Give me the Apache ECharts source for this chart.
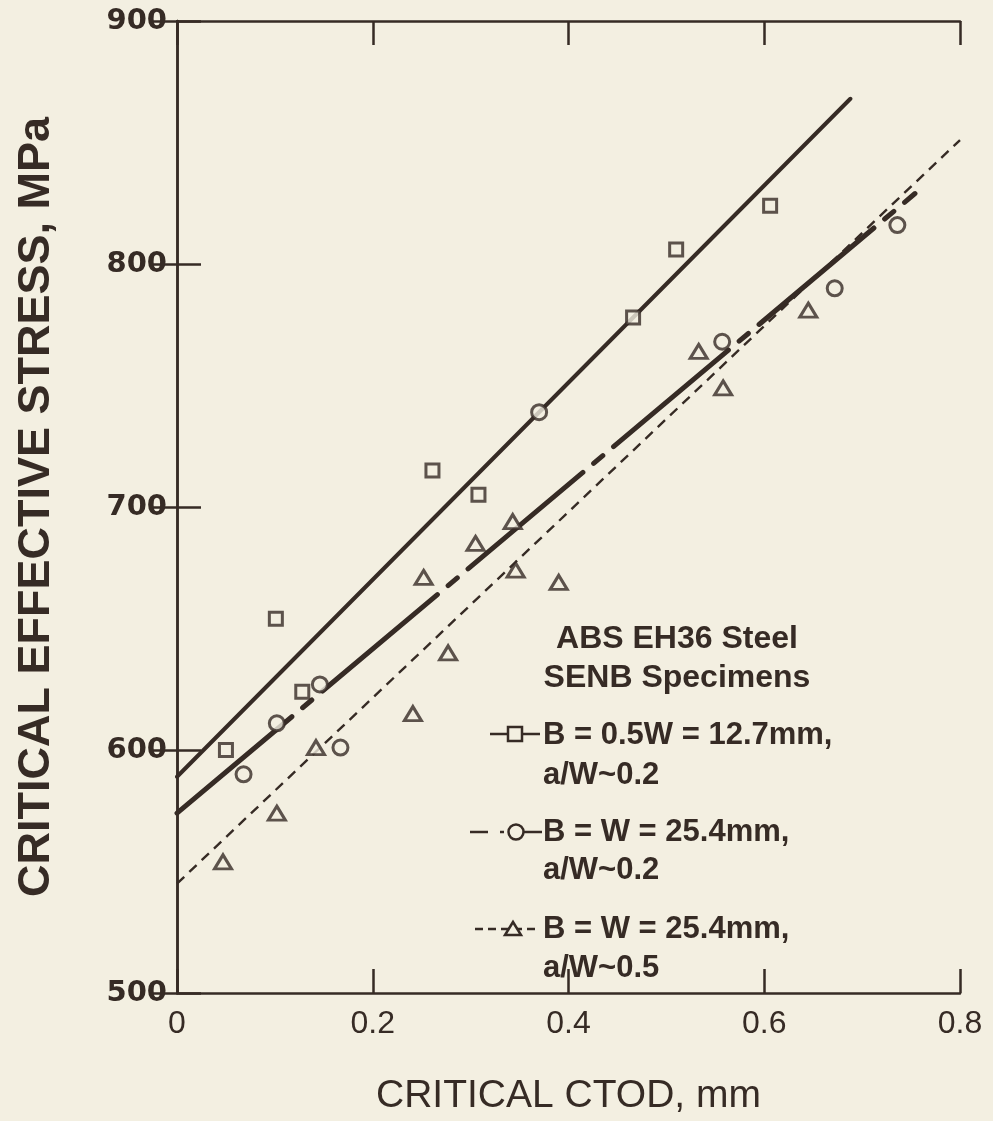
<!DOCTYPE html>
<html>
<head>
<meta charset="utf-8">
<script src="https://cdn.jsdelivr.net/npm/echarts@6/dist/echarts.min.js"></script>
<style>
  html, body { margin: 0; padding: 0; background: #f3efe1; }
  #chart { width: 993px; height: 1121px; }
</style>
</head>
<body>
<div id="chart"></div>
<script>
// Ink and paper colours
const INK = '#362b25';
const PAPER = '#f3efe1';
const FONT = '"Liberation Sans", Arial, Helvetica, sans-serif';
const WIDE_FONT = '"DejaVu Sans", Verdana, sans-serif';

// Critical CTOD (mm) vs critical effective stress (MPa), ABS EH36 SENB specimens
const thinShallow = [   // B = 0.5W = 12.7 mm, a/W ~ 0.2
  [0.050, 600], [0.101, 654], [0.128, 624], [0.261, 715],
  [0.308, 705], [0.466, 778], [0.510, 806], [0.606, 824]
];
const thickShallow = [  // B = W = 25.4 mm, a/W ~ 0.2
  [0.068, 590], [0.102, 611], [0.146, 627], [0.167, 601],
  [0.370, 739], [0.557, 768], [0.672, 790], [0.736, 816]
];
const thickDeep = [     // B = W = 25.4 mm, a/W ~ 0.5
  [0.047, 554], [0.102, 574], [0.142, 601], [0.241, 615],
  [0.252, 671], [0.277, 640], [0.305, 685], [0.343, 694],
  [0.346, 674], [0.390, 669], [0.533, 764], [0.558, 749],
  [0.645, 781]
];

// Straight-line fits, given by their end points
const fitThinShallow = [[0, 589], [0.688, 868]];
const fitThickShallow = [[0, 574], [0.754, 829]];
const fitThickDeep = [[0, 545], [0.8, 851]];

// Axis ranges
const xRange = [0, 0.8, 0.2];
const yRange = [500, 900, 100];

// Annotation text
const noteTitle = ['ABS EH36 Steel', 'SENB Specimens'];
const noteEntries = [
  { lines: ['B = 0.5W = 12.7mm,', 'a/W~0.2'], symbol: 'square' },
  { lines: ['B = W = 25.4mm,', 'a/W~0.2'], symbol: 'circle' },
  { lines: ['B = W = 25.4mm,', 'a/W~0.5'], symbol: 'triangle' }
];

const chart = echarts.init(document.getElementById('chart'), null, { renderer: 'canvas' });

const axisLine = { show: true, lineStyle: { color: INK, width: 2.5 } };
const tickStyle = { show: true, inside: true, length: 24, lineStyle: { color: INK, width: 2.5 } };

function baseX(pos, withLabels) {
  return {
    type: 'value', position: pos, min: xRange[0], max: xRange[1], interval: xRange[2],
    axisLine, axisTick: tickStyle, splitLine: { show: false },
    axisLabel: withLabels
      ? { show: true, color: INK, fontFamily: FONT, fontSize: 32, margin: 15 }
      : { show: false }
  };
}
function baseY(pos, withLabels) {
  return {
    type: 'value', position: pos, min: yRange[0], max: yRange[1], interval: yRange[2],
    axisLine, axisTick: tickStyle, splitLine: { show: false },
    axisLabel: withLabels
      ? { show: true, color: INK, fontFamily: WIDE_FONT, fontSize: 29, fontWeight: 'bold', margin: 10 }
      : { show: false }
  };
}

const xBottom = Object.assign(baseX('bottom', true), {
  name: 'CRITICAL CTOD, mm', nameLocation: 'middle', nameGap: 84,
  nameTextStyle: { color: INK, fontFamily: FONT, fontSize: 39 }
});
const yLeft = Object.assign(baseY('left', true), {
  name: 'CRITICAL EFFECTIVE STRESS, MPa', nameLocation: 'middle', nameGap: 118,
  nameTextStyle: { color: INK, fontFamily: FONT, fontSize: 45, fontWeight: 'bold' }
});

// Legend-style annotation drawn as graphic elements
const graphics = [];
const NOTE_X = 543;
graphics.push({
  type: 'text', x: 677, y: 620, z: 10,
  style: { text: noteTitle.join('\n'), fill: INK, font: 'bold 32px ' + FONT,
           lineHeight: 39, align: 'center' }
});
const entryRows = [735, 832, 929];
const subRows = [775, 870, 968];
entryRows.forEach((y, i) => {
  const e = noteEntries[i];
  graphics.push({ type: 'text', x: NOTE_X, y: y, z: 10,
    style: { text: e.lines[0], fill: INK, font: 'bold 31px ' + FONT, verticalAlign: 'middle' } });
  graphics.push({ type: 'text', x: NOTE_X, y: subRows[i], z: 10,
    style: { text: e.lines[1], fill: INK, font: 'bold 31px ' + FONT, verticalAlign: 'middle' } });
  if (e.symbol === 'square') {
    graphics.push({ type: 'line', z: 10, shape: { x1: 490, y1: y - 1, x2: 540, y2: y - 1 },
      style: { stroke: INK, lineWidth: 2.5 } });
    graphics.push({ type: 'rect', z: 11, shape: { x: 508, y: y - 8, width: 14, height: 14 },
      style: { fill: PAPER, stroke: INK, lineWidth: 2.5 } });
  } else if (e.symbol === 'circle') {
    graphics.push({ type: 'line', z: 10, shape: { x1: 470, y1: y, x2: 488, y2: y },
      style: { stroke: INK, lineWidth: 2.5 } });
    graphics.push({ type: 'line', z: 10, shape: { x1: 500, y1: y, x2: 504, y2: y },
      style: { stroke: INK, lineWidth: 2.5 } });
    graphics.push({ type: 'line', z: 10, shape: { x1: 516, y1: y, x2: 542, y2: y },
      style: { stroke: INK, lineWidth: 2.5 } });
    graphics.push({ type: 'circle', z: 11, shape: { cx: 516, cy: y, r: 7.5 },
      style: { fill: PAPER, stroke: INK, lineWidth: 2.5 } });
  } else {
    graphics.push({ type: 'line', z: 10, shape: { x1: 475, y1: y, x2: 538, y2: y },
      style: { stroke: INK, lineWidth: 2.5, lineDash: [8, 5] } });
    graphics.push({ type: 'polygon', z: 11,
      shape: { points: [[513, y - 7], [521, y + 6], [505, y + 6]] },
      style: { fill: PAPER, stroke: INK, lineWidth: 2.5 } });
  }
});

const markerStyle = { color: PAPER, borderColor: INK, borderWidth: 3 };

chart.setOption({
  backgroundColor: PAPER,
  animation: false,
  grid: { left: 177, right: 33, top: 21, bottom: 127, containLabel: false },
  xAxis: [xBottom, baseX('top', false)],
  yAxis: [yLeft, baseY('right', false)],
  graphic: graphics,
  series: [
    { name: 'fit thin a/W 0.2', type: 'line', data: fitThinShallow, showSymbol: false,
      lineStyle: { color: INK, width: 4, cap: 'round' }, z: 2, silent: true },
    { name: 'fit thick a/W 0.2', type: 'line', data: fitThickShallow, showSymbol: false,
      lineStyle: { color: INK, width: 5, type: [150, 14, 12, 14], cap: 'round' }, z: 2, silent: true },
    { name: 'fit thick a/W 0.5', type: 'line', data: fitThickDeep, showSymbol: false,
      lineStyle: { color: INK, width: 2.4, type: [10, 7] }, z: 2, silent: true },
    { name: 'B = 0.5W = 12.7mm, a/W~0.2', type: 'scatter', data: thinShallow,
      symbol: 'rect', symbolSize: 13, itemStyle: markerStyle, z: 5 },
    { name: 'B = W = 25.4mm, a/W~0.2', type: 'scatter', data: thickShallow,
      symbol: 'circle', symbolSize: 15, itemStyle: markerStyle, z: 5 },
    { name: 'B = W = 25.4mm, a/W~0.5', type: 'scatter', data: thickDeep,
      symbol: 'triangle', symbolSize: [17, 14], itemStyle: markerStyle, z: 5 }
  ]
});
</script>
</body>
</html>
